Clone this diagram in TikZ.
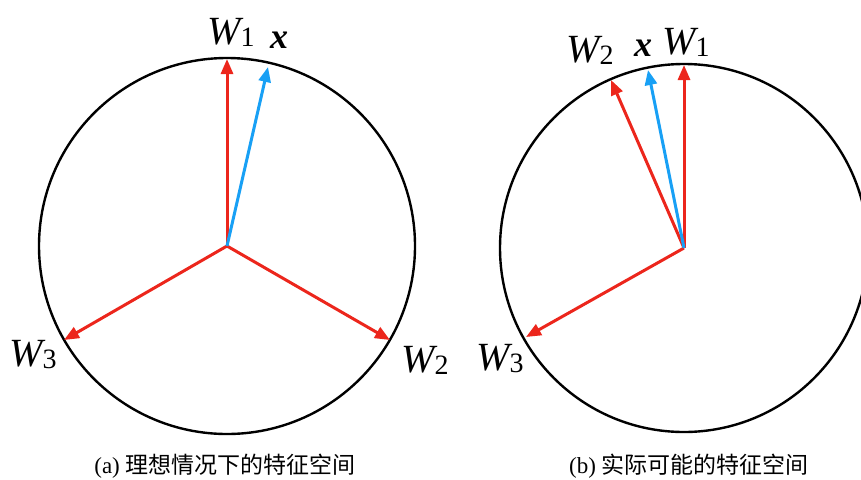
\documentclass[tikz,border=0pt]{standalone}
\usepackage{fontspec}
\setmainfont{Liberation Serif}
\newfontfamily\cjk{Noto Sans CJK SC}
\usetikzlibrary{arrows.meta}
\definecolor{vred}{RGB}{236,38,28}
\definecolor{vblue}{RGB}{24,160,245}
\newcommand{\lbl}[2]{{\fontsize{40}{40}\selectfont\itshape #1}\raisebox{-0.28em}{\fontsize{28}{28}\selectfont #2}}
\begin{document}
\begin{tikzpicture}[x=1pt,y=-1pt,
  ring/.style={draw=black,line width=2.4pt},
  vec/.style={line width=3pt,-{Triangle[length=15pt,width=12pt]}},
  redvec/.style={vec,draw=vred,fill=vred},
  bluevec/.style={vec,draw=vblue,fill=vblue},
  wlab/.style={inner sep=0pt,anchor=base},
  captext/.style={inner sep=0pt,font=\fontsize{23}{23}\selectfont}]
\useasboundingbox (0,0) rectangle (861,479);
% left diagram
\coordinate (cL) at (227,246);
\node[ring,circle,minimum size=376pt,inner sep=0pt] (circL) at (cL) {};
\coordinate (L1) at (227,59);
\coordinate (L2) at (390,340);
\coordinate (L3) at (64,340);
\coordinate (Lx) at (268,67);
\draw[redvec] (cL) -- (L1);
\draw[redvec] (cL) -- (L2);
\draw[redvec] (cL) -- (L3);
\draw[bluevec] (cL) -- (Lx);
\node[wlab] (lW1) at (231,44) {\lbl{W}{1}};
\node[wlab] (lx) at (279,48) {\fontsize{36}{36}\selectfont\bfseries\itshape x};
\node[wlab] (lW3) at (33,366) {\lbl{W}{3}};
\node[wlab] (lW2) at (425,372) {\lbl{W}{2}};
\node[captext] (capA) at (225,466) {(a) {\cjk 理想情况下的特征空间}};
% right diagram
\coordinate (cR) at (684,248);
\node[ring,circle,minimum size=368pt,inner sep=0pt] (circR) at (cR) {};
\coordinate (R1) at (684,65);
\coordinate (R2) at (611,80);
\coordinate (R3) at (526,337);
\coordinate (Rx) at (648,70);
\draw[redvec] (cR) -- (R1);
\draw[redvec] (cR) -- (R2);
\draw[redvec] (cR) -- (R3);
\draw[bluevec] (cR) -- (Rx);
\node[wlab] (rW2) at (590,62) {\lbl{W}{2}};
\node[wlab] (rx) at (643,56) {\fontsize{36}{36}\selectfont\bfseries\itshape x};
\node[wlab] (rW1) at (686,54) {\lbl{W}{1}};
\node[wlab] (rW3) at (500,370) {\lbl{W}{3}};
\node[captext] (capB) at (689,466) {(b) {\cjk 实际可能的特征空间}};
\end{tikzpicture}
\end{document}
